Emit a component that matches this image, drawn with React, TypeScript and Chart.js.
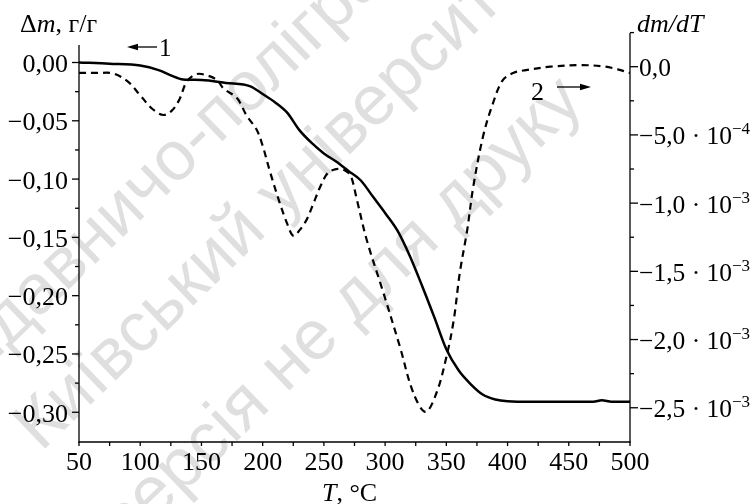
import { useEffect, useRef } from "react";
import { Chart, registerables } from "chart.js";

Chart.register(...registerables);

// Curve 1 (TG): temperature, °C, and mass change Δm, g/g
const tgTemperature = [50, 75, 100, 115, 125, 135, 150, 170, 190, 200, 210, 220, 230, 240, 250, 260, 270, 280, 290, 300, 310, 320, 330, 340, 350, 360, 370, 380, 390, 400, 420, 450, 470, 477, 485, 500];
const tgMassChange = [0.0, -0.001, -0.0025, -0.0065, -0.011, -0.0145, -0.015, -0.0175, -0.0205, -0.027, -0.034, -0.043, -0.058, -0.069, -0.078, -0.085, -0.093, -0.101, -0.115, -0.129, -0.144, -0.1655, -0.191, -0.218, -0.246, -0.264, -0.276, -0.285, -0.289, -0.2905, -0.291, -0.291, -0.291, -0.2897, -0.291, -0.291];

// Curve 2 (DTG): temperature, °C, and dm/dT in units of 10^-3
const dtgTemperature = [50, 65, 78, 90, 100, 110, 119, 126, 132, 138, 146, 155, 163, 168, 179, 187, 195, 200, 206, 214, 220, 225, 230, 236, 242, 247, 253, 258, 263, 268, 272, 277, 285, 298, 312, 323, 333, 342, 350, 356, 361, 367, 372, 380, 388, 396, 405, 415, 435, 460, 480, 490, 500];
const dtgRate = [-0.046, -0.046, -0.05, -0.11, -0.21, -0.31, -0.354, -0.32, -0.24, -0.11, -0.054, -0.065, -0.1, -0.16, -0.23, -0.36, -0.46, -0.58, -0.77, -1.0, -1.15, -1.24, -1.2, -1.12, -0.99, -0.88, -0.78, -0.755, -0.75, -0.765, -0.8, -0.977, -1.27, -1.64, -2.05, -2.39, -2.53, -2.39, -2.13, -1.86, -1.51, -1.2, -0.88, -0.51, -0.27, -0.1, -0.045, -0.025, 0.0, 0.012, 0.0, -0.02, -0.046];

// Axis ticks
const xTickValues = [50, 100, 150, 200, 250, 300, 350, 400, 450, 500];
const xTickLabels = ["50", "100", "150", "200", "250", "300", "350", "400", "450", "500"];
const xMinorTicks = [75, 125, 175, 225, 275, 325, 375, 425, 475];

const leftTickValues = [0, -0.05, -0.1, -0.15, -0.2, -0.25, -0.3];
const leftTickLabels = ["0,00", "\u22120,05", "\u22120,10", "\u22120,15", "\u22120,20", "\u22120,25", "\u22120,30"];
const leftMinorTicks = [-0.025, -0.075, -0.125, -0.175, -0.225, -0.275];

const rightTickValues = [0, -0.5, -1.0, -1.5, -2.0, -2.5];
const rightTickMantissas = ["0,0", "\u22125,0 \u00b7 10", "\u22121,0 \u00b7 10", "\u22121,5 \u00b7 10", "\u22122,0 \u00b7 10", "\u22122,5 \u00b7 10"];
const rightTickExponents = ["", "\u22124", "\u22123", "\u22123", "\u22123", "\u22123"];
const rightMinorTicks = [0.25, -0.25, -0.75, -1.25, -1.75, -2.25];

// Background imprint lines
const imprintLines = ["Видавничо-поліграфічний центр", "Київський університет", "версія не для друку"];
const imprintAlong = [-322, -285, -290];
const imprintAcross = [256, 354, 482];

const SERIF = '"Liberation Serif", "Times New Roman", serif';
const SANS = '"Liberation Sans", Arial, sans-serif';

type Seg = { text: string; italic?: boolean };

function drawSegments(ctx: CanvasRenderingContext2D, segs: Seg[], x: number, y: number, size: number) {
  let cx = x;
  for (const s of segs) {
    ctx.font = `${s.italic ? "italic " : ""}${size}px ${SERIF}`;
    ctx.fillText(s.text, cx, y);
    cx += ctx.measureText(s.text).width;
  }
}

function hLine(ctx: CanvasRenderingContext2D, x1: number, y1: number, x2: number, y2: number) {
  ctx.beginPath();
  ctx.moveTo(x1, y1);
  ctx.lineTo(x2, y2);
  ctx.stroke();
}

const decorPlugin = {
  id: "decor",
  beforeDatasetsDraw(chart: any) {
    const ctx: CanvasRenderingContext2D = chart.ctx;
    ctx.save();
    ctx.rotate((-44 * Math.PI) / 180);
    ctx.font = `70px ${SANS}`;
    ctx.fillStyle = "#dfdfdf";
    ctx.textBaseline = "alphabetic";
    imprintLines.forEach((t, i) => ctx.fillText(t, imprintAlong[i], imprintAcross[i]));
    ctx.restore();
  },
  afterDatasetsDraw(chart: any) {
    const ctx: CanvasRenderingContext2D = chart.ctx;
    const { left, right, top, bottom } = chart.chartArea;
    const xs = chart.scales.x;
    const yl = chart.scales.y;
    const yr = chart.scales.y2;
    ctx.save();
    ctx.strokeStyle = "#000";
    ctx.fillStyle = "#000";
    ctx.lineWidth = 1.3;

    // axis lines
    hLine(ctx, left, yl.getPixelForValue(0.015), left, bottom + 0.6);
    hLine(ctx, left - 0.6, bottom, right + 0.6, bottom);
    hLine(ctx, right, top, right, bottom + 0.6);

    // bottom ticks
    [...xTickValues, ...xMinorTicks].forEach((v) => {
      const px = xs.getPixelForValue(v);
      hLine(ctx, px, bottom, px, bottom + 4);
    });
    // left ticks
    leftTickValues.forEach((v) => {
      const py = yl.getPixelForValue(v);
      hLine(ctx, left - 7, py, left, py);
    });
    leftMinorTicks.forEach((v) => {
      const py = yl.getPixelForValue(v);
      hLine(ctx, left - 4, py, left, py);
    });
    // right ticks
    rightTickValues.forEach((v) => {
      const py = yr.getPixelForValue(v);
      hLine(ctx, right, py, right + 8, py);
    });
    rightMinorTicks.forEach((v) => {
      const py = yr.getPixelForValue(v);
      hLine(ctx, right, py, right + 4, py);
    });

    // tick labels
    ctx.textBaseline = "alphabetic";
    ctx.font = `26px ${SERIF}`;
    ctx.textAlign = "center";
    xTickValues.forEach((v, i) => ctx.fillText(xTickLabels[i], xs.getPixelForValue(v), 470));
    ctx.textAlign = "right";
    leftTickValues.forEach((v, i) => ctx.fillText(leftTickLabels[i], left - 11, yl.getPixelForValue(v) + 9.5));
    ctx.textAlign = "left";
    rightTickValues.forEach((v, i) => {
      const py = yr.getPixelForValue(v) + 9.5;
      ctx.font = `25.5px ${SERIF}`;
      ctx.fillText(rightTickMantissas[i], right + 9, py);
      const w = ctx.measureText(rightTickMantissas[i]).width;
      if (rightTickExponents[i]) {
        ctx.font = `17px ${SERIF}`;
        ctx.fillText(rightTickExponents[i], right + 9 + w, py - 10);
      }
    });

    // axis titles
    drawSegments(ctx, [{ text: "\u0394" }, { text: "m", italic: true }, { text: ", г/г" }], 20, 32, 26);
    drawSegments(ctx, [{ text: "dm/dT", italic: true }], 637, 32, 26);
    drawSegments(ctx, [{ text: "T", italic: true }, { text: ", \u00b0C" }], 322, 501, 26);

    // curve markers
    ctx.lineWidth = 1.3;
    hLine(ctx, 134, 47, 157, 47);
    ctx.beginPath();
    ctx.moveTo(127, 47);
    ctx.lineTo(138, 43.8);
    ctx.lineTo(138, 50.2);
    ctx.closePath();
    ctx.fill();
    drawSegments(ctx, [{ text: "1" }], 159, 56, 25);

    drawSegments(ctx, [{ text: "2" }], 531, 100, 26);
    hLine(ctx, 557, 87, 584, 87);
    ctx.beginPath();
    ctx.moveTo(591, 87);
    ctx.lineTo(580, 83.8);
    ctx.lineTo(580, 90.2);
    ctx.closePath();
    ctx.fill();

    ctx.restore();
  },
};

export default function App() {
  const canvasRef = useRef<HTMLCanvasElement | null>(null);

  useEffect(() => {
    const canvas = canvasRef.current;
    if (!canvas) return;
    const chart = new Chart(canvas, {
      type: "line",
      data: {
        datasets: [
          {
            label: "1",
            data: tgTemperature.map((t, i) => ({ x: t, y: tgMassChange[i] })),
            yAxisID: "y",
            borderColor: "#000",
            borderWidth: 2.5,
            pointRadius: 0,
            fill: false,
            cubicInterpolationMode: "monotone",
          },
          {
            label: "2",
            data: dtgTemperature.map((t, i) => ({ x: t, y: dtgRate[i] })),
            yAxisID: "y2",
            borderColor: "#000",
            borderWidth: 2.2,
            borderDash: [7, 5],
            pointRadius: 0,
            fill: false,
            tension: 0.35,
          },
        ],
      },
      options: {
        responsive: false,
        animation: false,
        events: [],
        layout: { padding: { left: 79, right: 126, top: 33, bottom: 62 } },
        plugins: { legend: { display: false }, tooltip: { enabled: false } },
        scales: {
          x: { type: "linear", min: 50, max: 500, display: false },
          y: { type: "linear", position: "left", min: -0.3255, max: 0.0253, display: false },
          y2: { type: "linear", position: "right", min: -2.751, max: 0.247, display: false },
        },
      },
      plugins: [decorPlugin],
    });
    return () => chart.destroy();
  }, []);

  return (
    <div style={{ position: "absolute", left: 0, top: 0, width: 756, height: 504, background: "#fff" }}>
      <canvas ref={canvasRef} width={756} height={504} style={{ display: "block" }} />
    </div>
  );
}
